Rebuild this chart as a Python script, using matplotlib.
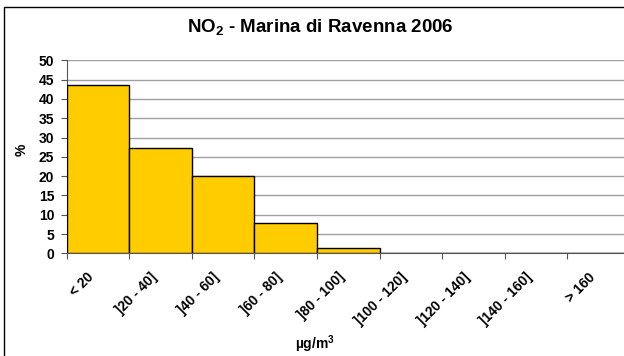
import matplotlib
matplotlib.use('Agg')
import matplotlib.pyplot as plt
from matplotlib.patches import Rectangle
import numpy as np

classes = ['< 20', ']20 - 40]', ']40 - 60]', ']60 - 80]', ']80 - 100]',
           ']100 - 120]', ']120 - 140]', ']140 - 160]', '> 160']
percent = [43.6, 27.2, 20.1, 7.8, 1.3, 0, 0, 0, 0]
y_ticks = list(range(0, 51, 5))

plt.rcParams['font.family'] = ['Liberation Sans', 'DejaVu Sans']
plt.rcParams['font.weight'] = 'bold'
plt.rcParams['mathtext.fontset'] = 'custom'
plt.rcParams['mathtext.rm'] = 'Liberation Sans:bold'
plt.rcParams['mathtext.it'] = 'Liberation Sans:bold'
plt.rcParams['mathtext.bf'] = 'Liberation Sans:bold'
plt.rcParams['mathtext.default'] = 'rm'

W, H = 624, 356
fig = plt.figure(figsize=(W / 100, H / 100), dpi=100)
fig.patch.set_facecolor('white')

# outer chart border (cut off at right/bottom like the original)
fig.patches.append(Rectangle((4 / W, -0.05), 1.1, 1 - 7 / H + 0.05, transform=fig.transFigure,
                             fill=False, edgecolor='black', linewidth=1.0))

ax = fig.add_axes([66.7 / W, 1 - 253.3 / H, (630 - 66.7) / W, (253.3 - 60.4) / H])
x = np.arange(len(classes))
ax.bar(x, percent, width=1.0, align='edge', color='#FFCC00', edgecolor='black', linewidth=1.0, zorder=3)

ax.set_xlim(0, len(classes))
ax.set_ylim(0, 50)
ax.set_yticks(y_ticks)
ax.yaxis.grid(True, color='#a0a0a0', linewidth=1.0, zorder=0)
ax.set_axisbelow(True)

ax.set_xticks(np.arange(len(classes) + 1))
ax.set_xticklabels([])
ax.set_xticks(x + 0.404, minor=True)
ax.set_xticklabels(classes, minor=True, rotation=45, ha='right', va='center',
                   rotation_mode='anchor', fontsize=10, fontweight='bold')
ax.tick_params(axis='x', which='minor', length=0, pad=15.5)
ax.tick_params(axis='x', which='major', length=4, color='#555555')
ax.tick_params(axis='y', length=4, color='#555555', labelsize=10, pad=5)

for s in ['top', 'right']:
    ax.spines[s].set_visible(False)
ax.spines['left'].set_color('#555555')
ax.spines['bottom'].set_color('#555555')

fig.text(320 / W, 1 - 27 / H, r'NO$_2$ - Marina di Ravenna 2006', ha='center', va='center',
         fontsize=13.5, fontweight='bold')
fig.text(22 / W, 1 - 150 / H, '%', rotation=90, ha='center', va='center', fontsize=10, fontweight='bold')
fig.text(315 / W, 1 - 344 / H, r'µg/m$^3$', ha='center', va='center', fontsize=10, fontweight='bold')

fig.savefig('out.png', dpi=100)
